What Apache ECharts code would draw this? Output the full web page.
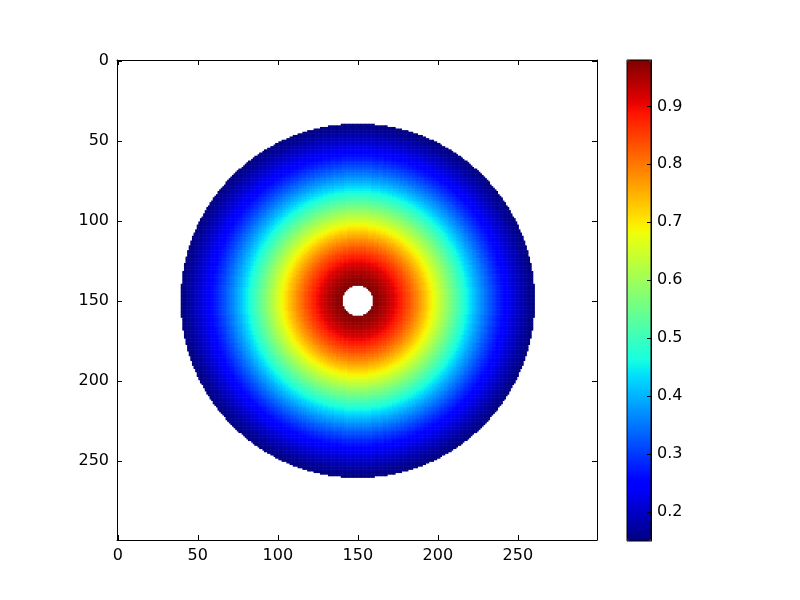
<!DOCTYPE html>
<html>
<head>
<meta charset="utf-8">
<script src="https://cdn.jsdelivr.net/npm/echarts@6/dist/echarts.min.js"></script>
<style>
    html, body { margin: 0; background: #fff; }
    #chart { width: 800px; height: 600px; }
</style>
</head>
<body>
<div id="chart"></div>
<script>
// image is 300 x 300 cells, disc centred on (150, 150)
var gridSize = 300;
var centre = [150, 150];

// value of each ring, radius 10 .. 110; inside 10 and outside 110 is empty
var ringStart = 10;
var ringValues = [
    0.980, 0.976, 0.973, 0.968, 0.964, 0.959, 0.954, 0.949, 0.943, 0.937,
    0.931, 0.924, 0.918, 0.911, 0.903, 0.896, 0.888, 0.880, 0.872, 0.863,
    0.855, 0.846, 0.837, 0.828, 0.818, 0.809, 0.799, 0.789, 0.779, 0.769,
    0.759, 0.749, 0.738, 0.728, 0.717, 0.706, 0.696, 0.685, 0.674, 0.663,
    0.652, 0.641, 0.630, 0.619, 0.608, 0.597, 0.587, 0.576, 0.565, 0.554,
    0.543, 0.532, 0.522, 0.511, 0.500, 0.490, 0.479, 0.469, 0.459, 0.449,
    0.439, 0.429, 0.419, 0.409, 0.400, 0.390, 0.381, 0.372, 0.363, 0.354,
    0.345, 0.336, 0.328, 0.319, 0.311, 0.303, 0.295, 0.287, 0.280, 0.272,
    0.265, 0.258, 0.251, 0.244, 0.237, 0.231, 0.224, 0.218, 0.212, 0.206,
    0.200, 0.195, 0.189, 0.184, 0.178, 0.173, 0.168, 0.164, 0.159, 0.154,
    0.150
];

var axisTicks = [0, 50, 100, 150, 200, 250];
var colorbarTicks = [0.2, 0.3, 0.4, 0.5, 0.6, 0.7, 0.8, 0.9];
var colorMin = 0.15;
var colorMax = 0.98;

// matplotlib "jet" colormap
function jet(t) {
    function seg(pts) {
        for (var i = 1; i < pts.length; i++) {
            if (t <= pts[i][0]) {
                var a = pts[i - 1], b = pts[i];
                return a[1] + (b[1] - a[1]) * (t - a[0]) / (b[0] - a[0]);
            }
        }
        return pts[pts.length - 1][1];
    }
    var r = seg([[0, 0], [0.35, 0], [0.66, 1], [0.89, 1], [1, 0.5]]);
    var g = seg([[0, 0], [0.125, 0], [0.375, 1], [0.64, 1], [0.91, 0], [1, 0]]);
    var b = seg([[0, 0.5], [0.11, 1], [0.34, 1], [0.65, 0], [1, 0]]);
    return 'rgb(' + Math.round(r * 255) + ',' + Math.round(g * 255) + ',' + Math.round(b * 255) + ')';
}
var jetColors = [];
for (var s = 0; s <= 64; s++) jetColors.push(jet(s / 64));

var categories = [];
for (var c = 0; c < gridSize; c++) categories.push(c);

var cells = [];
for (var x = 0; x < gridSize; x++) {
    for (var y = 0; y < gridSize; y++) {
        var dx = x - centre[0], dy = y - centre[1];
        var k = Math.round(Math.sqrt(dx * dx + dy * dy)) - ringStart;
        if (k >= 0 && k < ringValues.length) cells.push([x, y, ringValues[k]]);
    }
}

var font = { fontFamily: 'DejaVu Sans', fontSize: 16, color: '#000' };
var line = { show: true, onZero: false, lineStyle: { color: '#000', width: 1 } };

function frameAxis(dim, pos, labels) {
    return {
        type: 'value', gridIndex: 0, position: pos,
        min: -0.5, max: 299.5, inverse: dim === 'y',
        splitLine: { show: false },
        axisLine: line,
        axisTick: { show: true, inside: true, length: 5, customValues: axisTicks, lineStyle: { color: '#000' } },
        axisLabel: labels
            ? Object.assign({ show: true, customValues: axisTicks, margin: 8 }, font)
            : { show: false }
    };
}

var chart = echarts.init(document.getElementById('chart'));
chart.setOption({
    animation: false,
    backgroundColor: '#fff',
    textStyle: { fontFamily: 'DejaVu Sans' },
    grid: [
        { left: 117, top: 60, width: 480, height: 480 },
        { left: 627, top: 60, width: 24, height: 481, show: true, z: 10,
          borderColor: '#000', borderWidth: 1, backgroundColor: 'transparent' }
    ],
    xAxis: [
        { type: 'category', gridIndex: 0, data: categories, show: false },
        frameAxis('x', 'bottom', true),
        frameAxis('x', 'top', false),
        { type: 'value', gridIndex: 1, show: false, min: 0, max: 1 }
    ],
    yAxis: [
        { type: 'category', gridIndex: 0, data: categories, show: false, inverse: true },
        frameAxis('y', 'left', true),
        frameAxis('y', 'right', false),
        {
            type: 'value', gridIndex: 1, position: 'right', z: 10,
            min: colorMin, max: colorMax,
            splitLine: { show: false },
            axisLine: line,
            axisTick: { show: true, inside: true, length: 4, customValues: colorbarTicks, lineStyle: { color: '#000' } },
            axisLabel: Object.assign({ show: true, customValues: colorbarTicks, margin: 6,
                formatter: function (v) { return v.toFixed(1); } }, font)
        }
    ],
    visualMap: {
        type: 'continuous',
        seriesIndex: 0,
        min: colorMin,
        max: colorMax,
        calculable: false,
        left: 627,
        top: 60,
        itemWidth: 24,
        itemHeight: 481,
        padding: 0,
        inRange: { color: jetColors }
    },
    series: [{
        type: 'heatmap',
        xAxisIndex: 0,
        yAxisIndex: 0,
        data: cells,
        progressive: 0,
        emphasis: { disabled: true },
        itemStyle: { borderWidth: 0 }
    }]
});
</script>
</body>
</html>
